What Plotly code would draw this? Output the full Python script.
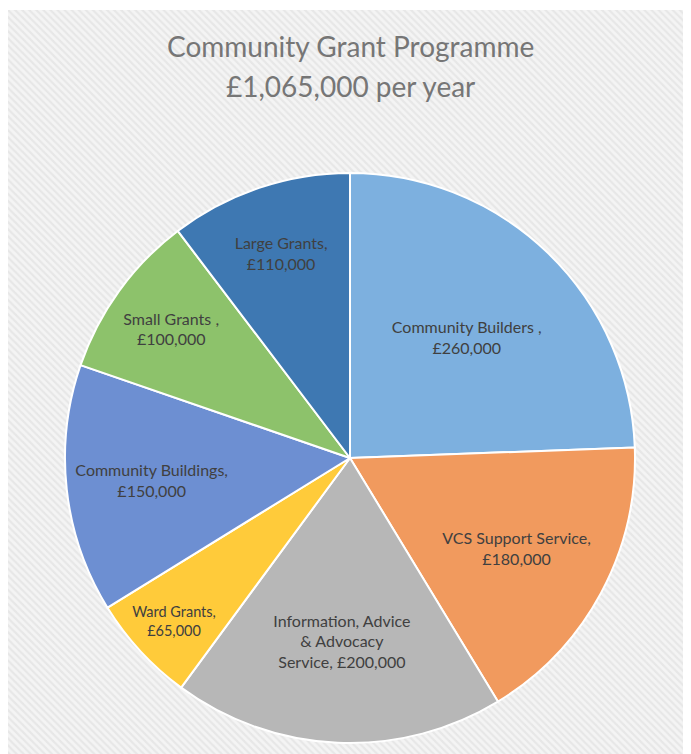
import plotly.graph_objects as go

categories = ["Community Builders ,", "VCS Support Service,", "Information, Advice<br>& Advocacy<br>Service,",
              "Ward Grants,", "Community Buildings,", "Small Grants ,", "Large Grants,"]
values = [260000, 180000, 200000, 65000, 150000, 100000, 110000]
colors = ["#7DB0DF", "#F19A5E", "#B7B7B7", "#FFCB3A", "#6D8FD2", "#8DC26B", "#3E78B2"]
title_lines = ["Community Grant Programme", "£1,065,000 per year"]

def fmt(name, v):
    if name.endswith("<br>Service,"):
        return f"{name} £{v:,}"
    return f"{name}<br>£{v:,}"

texts = [fmt(c, v) for c, v in zip(categories, values)]

W, H = 683, 746  # page body has an 8px margin

fig = go.Figure()

# hatched chart-area background
fig.add_trace(go.Scatter(
    x=[0, 1, 1, 0, 0], y=[0, 0, 1, 1, 0], mode="lines", fill="toself",
    line=dict(width=0), hoverinfo="skip", showlegend=False,
    fillcolor="#F2F2F2",
    fillpattern=dict(shape="\\", bgcolor="#F4F4F4", fgcolor="#DADADA", size=5, solidity=0.45),
))

fig.add_trace(go.Pie(
    labels=[c.replace("<br>", " ") for c in categories], values=values, text=texts,
    textinfo="text", textposition="inside", insidetextorientation="horizontal",
    sort=False, direction="clockwise", rotation=0,
    marker=dict(colors=colors, line=dict(color="white", width=2)),
    textfont=dict(family="Lato, Open Sans, sans-serif", size=16, color="#404040"),
    domain=dict(x=[(342 - 285) / W, (342 + 285) / W], y=[1 - 735 / H, 1 - 165 / H]),
    showlegend=False, hoverinfo="label+value",
))

for i, (line, yy) in enumerate(zip(title_lines, [38, 78])):
    fig.add_annotation(text=line, x=342 / W, y=1 - yy / H, xref="paper", yref="paper",
                       xanchor="center", yanchor="middle", showarrow=False,
                       font=dict(family="Lato, Open Sans, sans-serif", size=28, color="#767676"))

fig.update_layout(
    width=W, height=H, margin=dict(l=0, r=0, t=0, b=0),
    paper_bgcolor="white", plot_bgcolor="rgba(0,0,0,0)",
    xaxis=dict(domain=[0, 1], range=[0, 1], visible=False, fixedrange=True),
    yaxis=dict(domain=[0, 1 - 2 / H], range=[0, 1], visible=False, fixedrange=True),
)

fig.write_html("out.html")
